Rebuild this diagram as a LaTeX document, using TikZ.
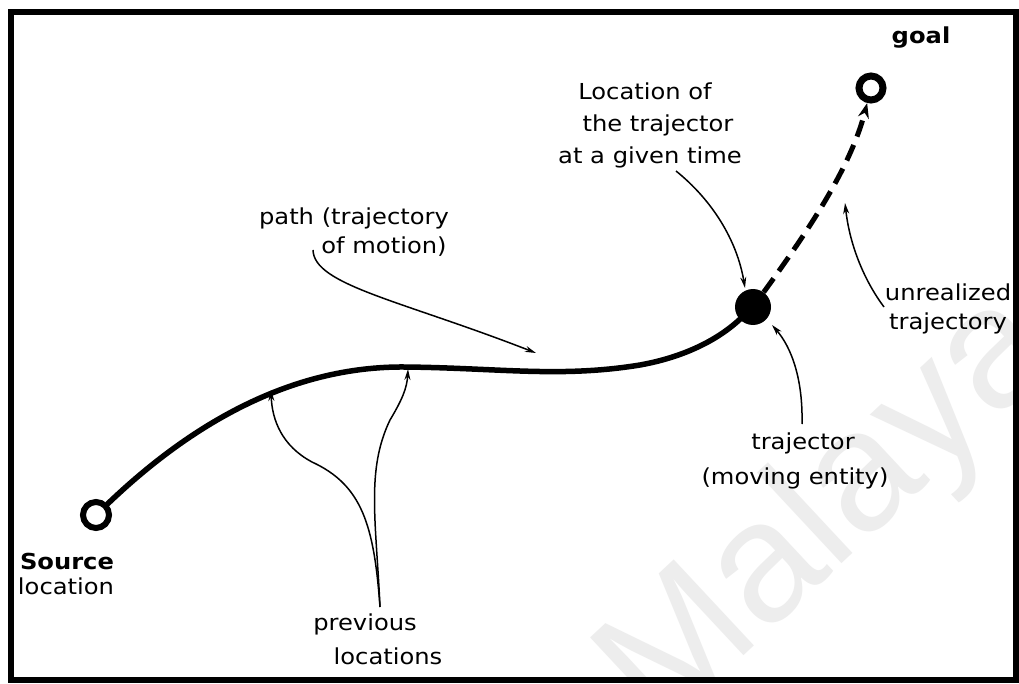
\documentclass[tikz,border=0pt]{standalone}
\usepackage{fontspec}
\usetikzlibrary{arrows.meta}
\newfontfamily\hand[FakeStretch=1.1]{DejaVu Sans}
\newfontfamily\wmfont{Liberation Sans}
\begin{document}
\begin{tikzpicture}[x=1pt,y=-1pt,
  lbl/.style={anchor=base, inner sep=0pt, font=\hand\fontsize{22}{26}\selectfont},
  boldlbl/.style={lbl, font=\hand\bfseries\fontsize{22}{26}\selectfont},
  ring/.style={circle, draw, line width=6pt, minimum size=26pt, inner sep=0pt},
  motion/.style={line width=5.5pt, line cap=round},
  note/.style={line width=1.5pt, -{Stealth[length=11pt,width=6pt]}}]

% canvas and frame
\useasboundingbox (0,0) rectangle (1019,684);
\fill[white] (0,0) rectangle (1019,684);
\begin{scope}
  \clip (14,15) rectangle (1013,677);
  \node[rotate=43, anchor=base west, inner sep=0pt, text=black!7,
        font=\wmfont\fontsize{171}{171}\selectfont] (wm) at (660,734) {Malaya};
\end{scope}
\draw[line width=6pt] (11,12) rectangle (1016,680);

% source, trajector and goal
\node[ring] (src) at (96,515) {};
\node[ring, line width=7pt, minimum size=24pt] (goal) at (871,88) {};
\node[circle, fill, minimum size=36pt, inner sep=0pt] (dot) at (753,307) {};

% realized path
\draw[motion] (src) .. controls (190,425) and (290,366) .. (405,367)
  .. controls (500,368) and (560,378) .. (640,365)
  .. controls (690,356) and (722,336) .. (dot);

% unrealized trajectory
\draw[line width=5pt, dash pattern=on 17pt off 9pt,
      -{Stealth[length=15pt,width=11pt]}]
  (dot) .. controls (805,235) and (850,170) .. (goal);

% labels
\node[boldlbl] (goalt) at (921,44) {goal};
\node[lbl] (loca) at (645,100) {Location of};
\node[lbl] (locb) at (658,132) {the trajector};
\node[lbl] (locc) at (650,164) {at a given time};
\node[lbl] (patha) at (354,225) {path (trajectory};
\node[lbl] (pathb) at (384,254) {of motion)};
\node[lbl] (unra) at (948,301) {unrealized};
\node[lbl] (unrb) at (948,330) {trajectory};
\node[lbl] (traja) at (803,449) {trajector};
\node[lbl] (trajb) at (795,484) {(moving entity)};
\node[boldlbl] (srca) at (67,569) {Source};
\node[lbl] (srcb) at (66,594) {location};
\node[lbl] (preva) at (365,630) {previous};
\node[lbl] (prevb) at (388,664) {locations};

% anchor points of the pointers
\coordinate (pathfrom) at (313,250);
\coordinate (pathto) at (536,353);
\coordinate (locfrom) at (676,171);
\coordinate (locto) at (745,288);
\coordinate (trajfrom) at (802,424);
\coordinate (trajto) at (772,325);
\coordinate (unrfrom) at (884,307);
\coordinate (unrto) at (845,203);
\coordinate (prevfrom) at (380,607);
\coordinate (preva1) at (271,390);
\coordinate (preva2) at (408,369);

% pointers
\draw[note] (pathfrom) .. controls (314,285) and (400,300) .. (pathto);
\draw[note] (locfrom) .. controls (712,200) and (737,240) .. (locto);
\draw[note] (trajfrom) .. controls (803,380) and (792,348) .. (trajto);
\draw[note] (unrfrom) .. controls (866,283) and (850,248) .. (unrto);
\draw[note] (prevfrom) .. controls (374,525) and (362,485) .. (312,462)
  .. controls (282,446) and (272,420) .. (preva1);
\draw[note] (prevfrom) .. controls (376,520) and (366,470) .. (390,420)
  .. controls (402,400) and (407,388) .. (preva2);
\end{tikzpicture}
\end{document}
